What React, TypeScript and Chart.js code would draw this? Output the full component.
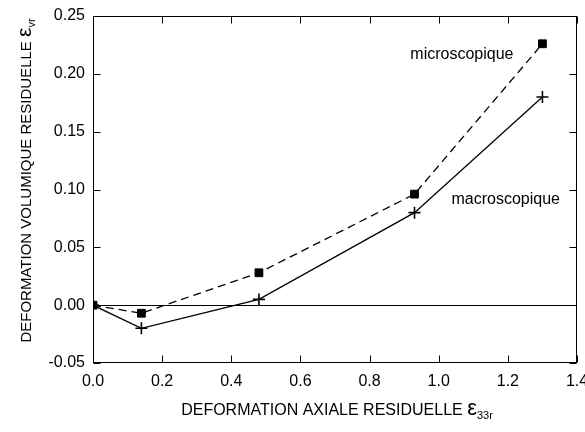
import React, { useEffect, useRef } from "react";
import { Chart, registerables } from "chart.js";

Chart.register(...registerables);

const xValues = [0, 0.14, 0.48, 0.93, 1.3];
const microValues = [0, -0.007, 0.028, 0.096, 0.226];
const macroValues = [0, -0.02, 0.005, 0.08, 0.18];
const xTickStep = 0.2;
const yTickStep = 0.05;
const xLabel = "DEFORMATION AXIALE RESIDUELLE ";
const xLabelSub = "33r";
const yLabel = "DEFORMATION VOLUMIQUE RESIDUELLE ";
const yLabelSub = "vr";
const microLabel = { text: "microscopique", x: 0.918, y: 0.217 };
const macroLabel = { text: "macroscopique", x: 1.037, y: 0.091 };

const FONT = "'Liberation Sans', Arial, sans-serif";

const fmt = (v: number, d: number) => (Math.abs(v) < 1e-9 ? 0 : v).toFixed(d);

const framePlugin = {
  id: "frameTicks",
  afterDatasetsDraw(chart: any) {
    const { ctx, chartArea, scales } = chart;
    const { left, right, top, bottom } = chartArea;
    const xs = scales.x;
    const ys = scales.y;
    ctx.save();
    ctx.strokeStyle = "#000";
    ctx.lineWidth = 1;
    const L = Math.round(left) + 0.5;
    const R = Math.round(right) - 0.5;
    const T = Math.round(top) + 0.5;
    const B = Math.round(bottom) - 0.5;
    ctx.strokeRect(L, T, R - L, B - T);
    const len = 7;
    ctx.beginPath();
    xs.ticks.forEach((t: any) => {
      const p = Math.round(xs.getPixelForValue(t.value)) + 0.5;
      ctx.moveTo(p, B);
      ctx.lineTo(p, B - len);
      ctx.moveTo(p, T);
      ctx.lineTo(p, T + len);
    });
    ys.ticks.forEach((t: any) => {
      const p = Math.round(ys.getPixelForValue(t.value)) + 0.5;
      ctx.moveTo(L, p);
      ctx.lineTo(L + len, p);
      ctx.moveTo(R, p);
      ctx.lineTo(R - len, p);
    });
    ctx.stroke();

    // series labels
    ctx.fillStyle = "#000";
    ctx.font = `16px ${FONT}`;
    ctx.textAlign = "left";
    ctx.textBaseline = "middle";
    [microLabel, macroLabel].forEach((l) => {
      ctx.fillText(l.text, xs.getPixelForValue(l.x), ys.getPixelForValue(l.y));
    });

    ctx.textBaseline = "alphabetic";
    const drawTitle = (main: string, sub: string, size: number) => {
      const mainFont = `${size}px ${FONT}`;
      const epsFont = `${Math.round(size * 1.4)}px ${FONT}`;
      const subFont = `${Math.round(size * 0.7)}px ${FONT}`;
      ctx.font = mainFont;
      const w1 = ctx.measureText(main).width;
      ctx.font = epsFont;
      const w2 = ctx.measureText("ε").width;
      ctx.font = subFont;
      const w3 = ctx.measureText(sub).width;
      const total = w1 + w2 + w3;
      let x0 = -total / 2;
      ctx.font = mainFont;
      ctx.fillText(main, x0, 0);
      x0 += w1;
      ctx.font = epsFont;
      ctx.fillText("ε", x0, 0);
      x0 += w2;
      ctx.font = subFont;
      ctx.fillText(sub, x0, 4);
    };
    ctx.save();
    ctx.translate((left + right) / 2 + 2, 415);
    drawTitle(xLabel, xLabelSub, 16);
    ctx.restore();
    ctx.save();
    ctx.translate(31, (top + bottom) / 2 - 9);
    ctx.rotate(-Math.PI / 2);
    drawTitle(yLabel, yLabelSub, 15);
    ctx.restore();
    ctx.restore();
  },
};

export default function App() {
  const ref = useRef<HTMLCanvasElement>(null);
  useEffect(() => {
    if (!ref.current) return;
    const chart = new Chart(ref.current, {
      type: "line",
      data: {
        datasets: [
          {
            label: "microscopique",
            data: xValues.map((x, i) => ({ x, y: microValues[i] })),
            borderColor: "#000",
            backgroundColor: "#000",
            borderWidth: 1.3,
            borderDash: [8, 5],
            pointStyle: "rect",
            pointRadius: 5.5,
            pointBorderWidth: 1,
            pointBackgroundColor: "#000",
            pointBorderColor: "#000",
            tension: 0,
            fill: false,
          },
          {
            label: "macroscopique",
            data: xValues.map((x, i) => ({ x, y: macroValues[i] })),
            borderColor: "#000",
            backgroundColor: "#000",
            borderWidth: 1.3,
            pointStyle: "cross",
            pointRadius: 6,
            pointBorderWidth: 1.6,
            pointBorderColor: "#000",
            tension: 0,
            fill: false,
          },
        ],
      },
      options: {
        responsive: false,
        animation: false,
        layout: { padding: { top: 16, right: 8, left: 0, bottom: 0 } },
        plugins: { legend: { display: false }, tooltip: { enabled: false } },
        scales: {
          x: {
            type: "linear",
            min: 0,
            max: 1.4,
            border: { display: false },
            grid: { display: false, drawTicks: false },
            ticks: {
              stepSize: xTickStep,
              padding: 9,
              color: "#000",
              font: { family: FONT, size: 16 },
              callback: (v: any) => fmt(Number(v), 1),
            },
            afterFit: (s: any) => {
              s.height = 69;
              s.paddingLeft = 0;
              s.paddingRight = 0;
            },
          },
          y: {
            type: "linear",
            min: -0.05,
            max: 0.25,
            border: { display: false },
            grid: {
              drawTicks: false,
              color: (c: any) =>
                c.tick && Math.abs(c.tick.value) < 1e-9 ? "#000" : "transparent",
              lineWidth: 1,
            },
            ticks: {
              stepSize: yTickStep,
              padding: 8,
              color: "#000",
              font: { family: FONT, size: 16 },
              callback: (v: any) => fmt(Number(v), 2),
            },
            afterFit: (s: any) => {
              s.width = 93;
              s.paddingTop = 0;
              s.paddingBottom = 0;
            },
          },
        },
      },
      plugins: [framePlugin],
    });
    return () => chart.destroy();
  }, []);
  return (
    <div style={{ position: "absolute", left: 0, top: 0, width: 585, height: 432, background: "#fff" }}>
      <canvas ref={ref} width={585} height={432} style={{ display: "block" }} />
    </div>
  );
}
